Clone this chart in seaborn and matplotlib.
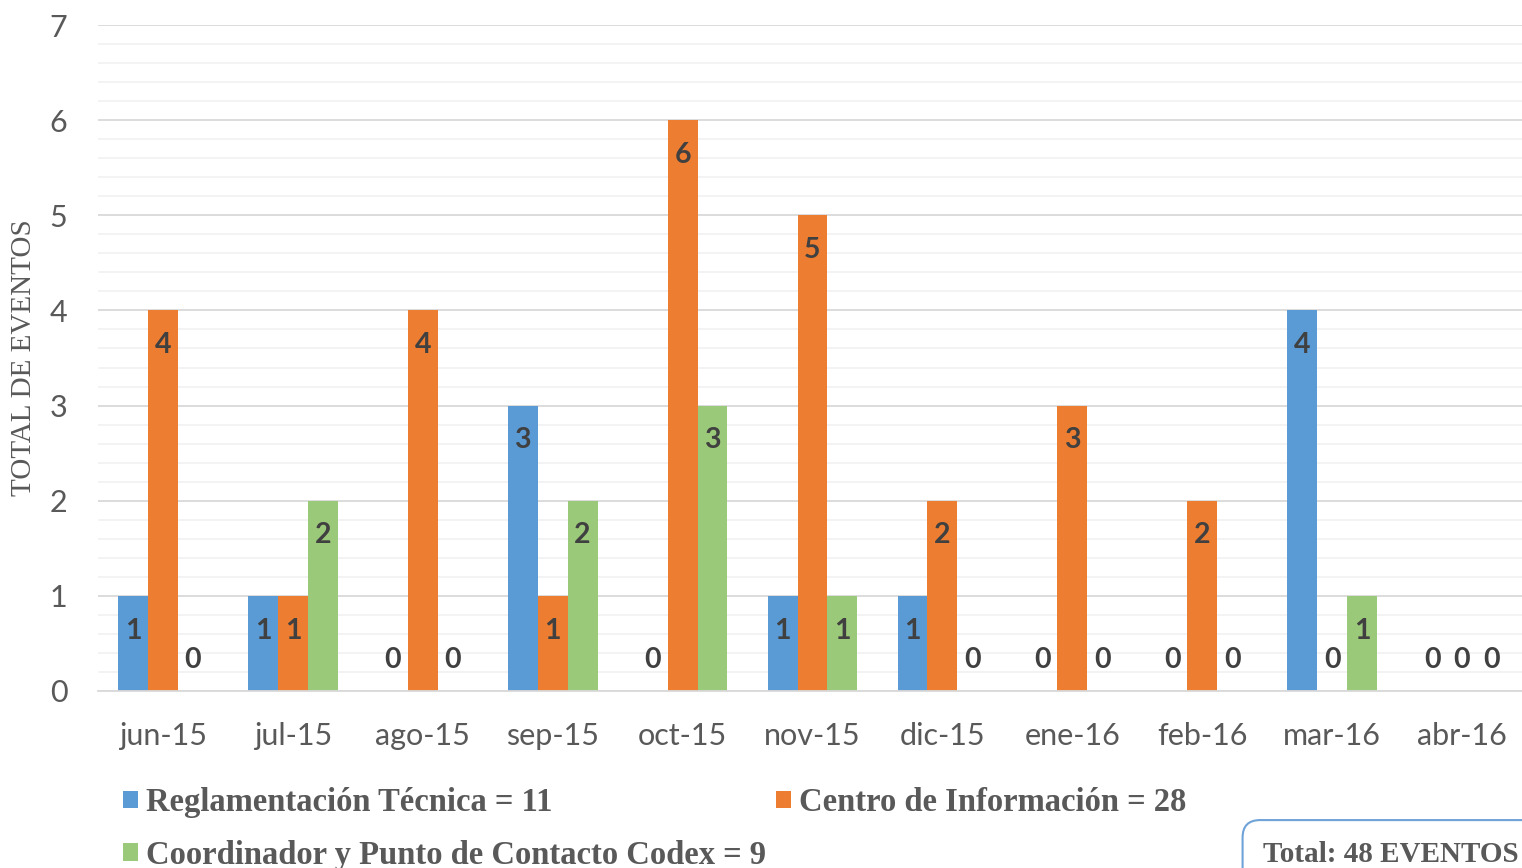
import numpy as np
import pandas as pd
import matplotlib
matplotlib.use("Agg")
import matplotlib.pyplot as plt
from matplotlib.ticker import MultipleLocator
from matplotlib.patches import Patch
import seaborn as sns

# ---- data ----
meses = ["jun-15", "jul-15", "ago-15", "sep-15", "oct-15", "nov-15",
         "dic-15", "ene-16", "feb-16", "mar-16", "abr-16"]
series = ["Reglamentación Técnica", "Centro de Información",
          "Coordinador y Punto de Contacto Codex"]
reglamentacion = [1, 1, 0, 3, 0, 1, 1, 0, 0, 4, 0]
centro = [4, 1, 4, 1, 6, 5, 2, 3, 2, 0, 0]
codex = [0, 2, 0, 2, 3, 1, 0, 0, 0, 1, 0]
colores = ["#5B9BD5", "#ED7D31", "#9BC97A"]
valores = [reglamentacion, centro, codex]

df = pd.DataFrame({
    "mes": meses * 3,
    "serie": [s for s in series for _ in meses],
    "valor": reglamentacion + centro + codex,
})

sns.set_theme(style="white")
plt.rcParams["font.family"] = ["Lato", "DejaVu Sans"]

fig = plt.figure(figsize=(15.22, 8.68), dpi=100)
ax = fig.add_axes([98 / 1522, 177 / 868, 1429 / 1522, 666 / 868])

sns.barplot(data=df, x="mes", y="valor", hue="serie", order=meses,
            hue_order=series, palette=colores, width=0.69, gap=0,
            saturation=1, ax=ax, legend=False, linewidth=0)

ax.set_xlim(-0.5, len(meses) - 0.5)
ax.set_ylim(0, 7)
ax.yaxis.set_major_locator(MultipleLocator(1))
ax.yaxis.set_minor_locator(MultipleLocator(0.2))
ax.set_axisbelow(True)
ax.grid(axis="y", which="major", color="#D9D9D9", lw=1.3)
ax.grid(axis="y", which="minor", color="#F0F0F0", lw=1.1)
ax.grid(axis="x", visible=False)
for s in ["top", "right", "left"]:
    ax.spines[s].set_visible(False)
ax.spines["bottom"].set_color("#D9D9D9")
ax.spines["bottom"].set_linewidth(1.3)
ax.tick_params(axis="both", which="both", length=0, labelsize=22,
               labelcolor="#595959")
ax.tick_params(axis="y", pad=22)
ax.tick_params(axis="x", pad=22)
ax.set_xlabel("")
ax.set_ylabel("TOTAL DE EVENTOS", family="Liberation Serif", fontsize=21,
              color="#595959", labelpad=9)

# data labels
for cont, vals in zip(ax.containers, valores):
    for patch, v in zip(cont.patches, vals):
        xc = patch.get_x() + patch.get_width() / 2
        if v > 0:
            off = -25
        else:
            off = 22.5
        ax.annotate(str(v), (xc, v), xytext=(0, off), textcoords="offset points",
                    ha="center", va="center", fontsize=20.5, fontweight="bold",
                    color="#404040")

# legend
handles = [Patch(facecolor=c, edgecolor="none") for c in colores]
labels = [f"{s} = {sum(v)}" for s, v in zip(series, valores)]
order = [0, 2, 1]
fig.legend([handles[i] for i in order], [labels[i] for i in order],
           loc="upper left", bbox_to_anchor=(123 / 1522, 1 - 787 / 868),
           ncol=2, frameon=False, handlelength=0.46, handleheight=0.46,
           handletextpad=0.25, columnspacing=0.3, labelspacing=0.67,
           borderaxespad=0, borderpad=0,
           prop={"family": "Liberation Serif", "weight": "bold", "size": 23.5},
           labelcolor="#595959")

total = sum(sum(v) for v in valores)
fig.text(1263 / 1522, 1 - 854 / 868, f"Total: {total} EVENTOS",
         family="Liberation Serif", fontweight="bold", fontsize=21,
         color="#595959", ha="left", va="center",
         bbox=dict(boxstyle="round,pad=0.7,rounding_size=0.6",
                   facecolor="white", edgecolor="#6FA3D8", lw=1.5))

fig.savefig("out.png", dpi=100)
